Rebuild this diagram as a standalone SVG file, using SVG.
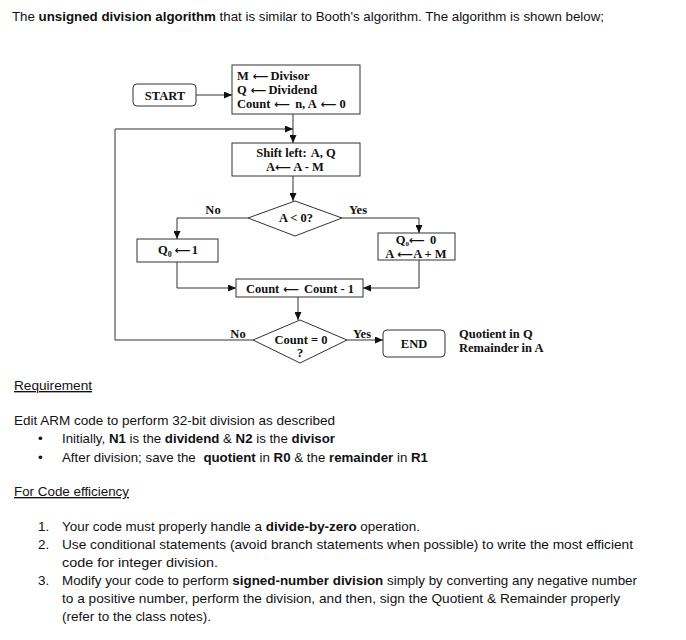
<svg xmlns="http://www.w3.org/2000/svg" width="686" height="640" viewBox="0 0 686 640">
<defs>
<marker id="ah" markerWidth="8" markerHeight="7" refX="8" refY="3.5" orient="auto" markerUnits="userSpaceOnUse">
<path d="M0,0 L8,3.5 L0,7 z" fill="#111"/>
</marker>
<style>
.doc{font-family:"Liberation Sans",Arial,sans-serif;font-size:13.5px;fill:#111}
.b{font-weight:bold}
.fc{font-family:"Liberation Serif","Times New Roman",serif;font-size:12.5px;font-weight:bold;fill:#111}
.ar{font-family:"DejaVu Sans",sans-serif;font-weight:bold;font-size:11px}
.box{fill:#fff;stroke:#333;stroke-width:1}
.ln{fill:none;stroke:#333;stroke-width:1}
.lbl{font-family:"Liberation Serif","Times New Roman",serif;font-size:12.5px;font-weight:bold;fill:#111}
</style>
</defs>
<rect width="686" height="640" fill="#fff"/>

<text class="doc" x="12" y="21" textLength="592" lengthAdjust="spacingAndGlyphs">The <tspan class="b">unsigned division algorithm</tspan> that is similar to Booth's algorithm. The algorithm is shown below;</text>

<g id="connectors">
<line class="ln" x1="196" y1="95" x2="232" y2="95" marker-end="url(#ah)"/>
<line class="ln" x1="293" y1="114" x2="293" y2="143" marker-end="url(#ah)"/>
<polyline class="ln" points="253,340 115,340 115,129 293,129" marker-end="url(#ah)"/>
<line class="ln" x1="293" y1="176" x2="293" y2="201" marker-end="url(#ah)"/>
<polyline class="ln" points="248,218 177,218 177,239" marker-end="url(#ah)"/>
<polyline class="ln" points="342,218 419,218 419,233" marker-end="url(#ah)"/>
<polyline class="ln" points="177,262 177,288 236,288" marker-end="url(#ah)"/>
<polyline class="ln" points="419,260 419,288 363,288" marker-end="url(#ah)"/>
<line class="ln" x1="298" y1="297" x2="298" y2="320" marker-end="url(#ah)"/>
<line class="ln" x1="347" y1="340" x2="383" y2="340" marker-end="url(#ah)"/>
<text class="lbl" x="213" y="214" text-anchor="middle">No</text>
<text class="lbl" x="358" y="214" text-anchor="middle">Yes</text>
<text class="lbl" x="238" y="338" text-anchor="middle">No</text>
<text class="lbl" x="362" y="338" text-anchor="middle">Yes</text>
</g>

<g id="start">
<rect class="box" x="133" y="84" width="63" height="22" rx="4"/>
<text class="fc" x="165" y="99.5" text-anchor="middle">START</text>
</g>

<g id="init">
<rect class="box" x="232" y="65" width="128" height="49"/>
<text class="fc" x="237" y="80">M<tspan class="ar" dx="4">⟵</tspan><tspan dx="2">Divisor</tspan></text>
<text class="fc" x="237" y="94">Q<tspan class="ar" dx="4">⟵</tspan><tspan dx="2">Dividend</tspan></text>
<text class="fc" x="237" y="108">Count<tspan class="ar" dx="4">⟵</tspan><tspan dx="5">n, A</tspan><tspan class="ar" dx="4">⟵</tspan><tspan dx="3">0</tspan></text>
</g>

<g id="shift">
<rect class="box" x="232" y="143" width="128" height="33"/>
<text class="fc" x="296" y="157" text-anchor="middle">Shift left:<tspan dx="4">A, Q</tspan></text>
<text class="fc" x="295" y="171" text-anchor="middle">A<tspan class="ar">⟵</tspan> A - M</text>
</g>

<g id="test-a">
<polygon class="box" points="295,201 342,218 295,236 248,218"/>
<text class="fc" x="296" y="222" text-anchor="middle">A &lt; 0?</text>
</g>

<g id="q0-one">
<rect class="box" x="137" y="239" width="81" height="23"/>
<text class="fc" x="178" y="254" text-anchor="middle">Q<tspan font-size="8" dy="3">0</tspan><tspan class="ar" dy="-3" dx="3">⟵</tspan><tspan dx="1">1</tspan></text>
</g>

<g id="q0-zero">
<rect class="box" x="378" y="233" width="77" height="27"/>
<text class="fc" x="416" y="243.5" text-anchor="middle" font-size="11">Q<tspan font-size="7" dy="2">0</tspan><tspan class="ar" dy="-2" font-size="10">⟵</tspan><tspan dx="5">0</tspan></text>
<text class="fc" x="416" y="257.5" text-anchor="middle" font-size="11">A<tspan class="ar" font-size="10" dx="3">⟵</tspan>A + M</text>
</g>

<g id="count">
<rect class="box" x="236" y="279" width="127" height="18"/>
<text class="fc" x="300" y="292.5" text-anchor="middle">Count<tspan class="ar" dx="4">⟵</tspan><tspan dx="5">Count - 1</tspan></text>
</g>

<g id="test-count">
<polygon class="box" points="300,320 347,340 300,363 253,340"/>
<text class="fc" x="301" y="344" text-anchor="middle">Count = 0</text>
<text class="fc" x="300" y="357" text-anchor="middle">?</text>
</g>

<g id="end">
<rect class="box" x="383" y="330" width="62" height="27" rx="4"/>
<text class="fc" x="414" y="348" text-anchor="middle">END</text>
</g>

<g id="result">
<text class="fc" x="459" y="338">Quotient in Q</text>
<text class="fc" x="459" y="352">Remainder in A</text>
</g>

<g id="requirements">
<text class="doc" x="14" y="390" text-decoration="underline" textLength="78" lengthAdjust="spacingAndGlyphs">Requirement</text>
<text class="doc" x="14" y="425" textLength="321" lengthAdjust="spacingAndGlyphs">Edit ARM code to perform 32-bit division as described</text>
<text class="doc" x="38" y="443">•</text>
<text class="doc" x="62" y="443" textLength="273" lengthAdjust="spacingAndGlyphs">Initially, <tspan class="b">N1</tspan> is the <tspan class="b">dividend</tspan> &amp; <tspan class="b">N2</tspan> is the <tspan class="b">divisor</tspan></text>
<text class="doc" x="38" y="462">•</text>
<text class="doc" x="62" y="462" textLength="366" lengthAdjust="spacingAndGlyphs">After division; save the <tspan class="b" dx="4">quotient</tspan> in <tspan class="b">R0</tspan> &amp; the <tspan class="b">remainder</tspan> in <tspan class="b">R1</tspan></text>
<text class="doc" x="14" y="496" text-decoration="underline" textLength="115" lengthAdjust="spacingAndGlyphs">For Code efficiency</text>
<text class="doc" x="38" y="531">1.</text>
<text class="doc" x="62" y="531" textLength="358" lengthAdjust="spacingAndGlyphs">Your code must properly handle a <tspan class="b">divide-by-zero</tspan> operation.</text>
<text class="doc" x="38" y="549">2.</text>
<text class="doc" x="62" y="549" textLength="571" lengthAdjust="spacingAndGlyphs">Use conditional statements (avoid branch statements when possible) to write the most efficient</text>
<text class="doc" x="62" y="567" textLength="156" lengthAdjust="spacingAndGlyphs">code for integer division.</text>
<text class="doc" x="38" y="585">3.</text>
<text class="doc" x="62" y="585" textLength="575" lengthAdjust="spacingAndGlyphs">Modify your code to perform <tspan class="b">signed-number division</tspan> simply by converting any negative number</text>
<text class="doc" x="62" y="603" textLength="558" lengthAdjust="spacingAndGlyphs">to a positive number, perform the division, and then, sign the Quotient &amp; Remainder properly</text>
<text class="doc" x="62" y="621" textLength="149" lengthAdjust="spacingAndGlyphs">(refer to the class notes).</text>
</g>
</svg>
